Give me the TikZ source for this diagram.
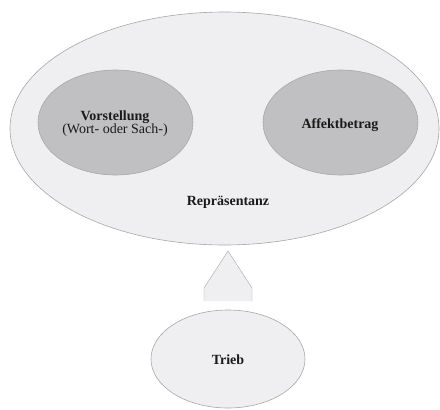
\documentclass[tikz,border=0pt]{standalone}
\usepackage{fontspec}
\setmainfont{Liberation Serif}
\usetikzlibrary{shapes.geometric}
\definecolor{palefill}{HTML}{EFEFF1}
\definecolor{darkfill}{HTML}{C0C0C2}
\definecolor{rimgray}{HTML}{A8A8AA}
\definecolor{inkgray}{HTML}{1A1A1A}
\begin{document}
\begin{tikzpicture}[x=1pt,y=-1pt,
  blob/.style={ellipse, draw=rimgray, line width=0.6pt, inner sep=0pt},
  outerblob/.style={blob, fill=palefill},
  innerblob/.style={blob, fill=darkfill},
  caption/.style={text=inkgray, font=\fontsize{14}{15}\selectfont\bfseries, align=center},
  subcaption/.style={text=inkgray, font=\fontsize{14}{15}\selectfont}
]
\useasboundingbox[fill=white] (0,0) rectangle (440,410);

% representation: the large outer ellipse with its two components
\node[outerblob, minimum width=429pt, minimum height=233pt] (rep) at (224.5,128.5) {};
\node[innerblob, minimum width=155pt, minimum height=105pt] (vor) at (115.5,122.5) {};
\node[innerblob, minimum width=155pt, minimum height=105pt] (aff) at (340.5,122.5) {};

\node[caption, anchor=base] (vortxt) at (115,120) {Vorstellung};
\node[subcaption, anchor=base] (vorsub) at (115,133) {(Wort- oder Sach-)};
\node[caption, anchor=base] (afftxt) at (340,128) {Affektbetrag};
\node[caption, anchor=base] (reptxt) at (228,205) {Repräsentanz};

% drive
\node[outerblob, minimum width=154pt, minimum height=98pt] (trieb) at (228,359) {};
\node[caption, anchor=base] (triebtxt) at (228,364) {Trieb};

% block arrow pointing from the drive up to the representation
\coordinate (tip) at (228,251);
\fill[palefill] (tip) -- (252,288) -- (252,301) -- (204,301) -- (204,288) -- cycle;
\draw[rimgray, line width=0.4pt] (204,301) -- (204,288) -- (tip) -- (252,288) -- (252,301);
\end{tikzpicture}
\end{document}
